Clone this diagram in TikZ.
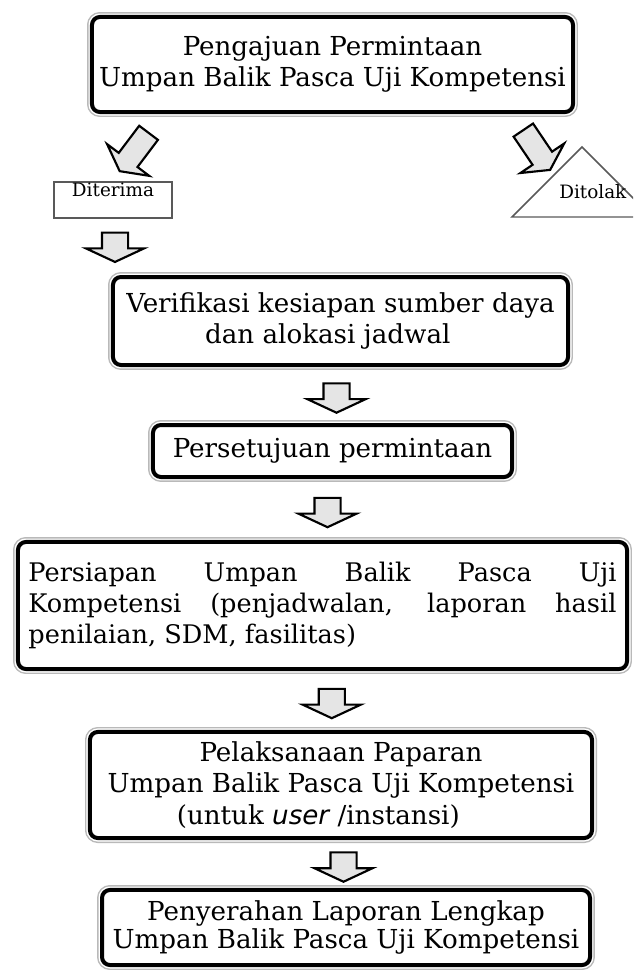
\documentclass[tikz,border=0pt]{standalone}
\usepackage{fontspec}
\setmainfont{DejaVu Serif}
\newfontfamily\userfont{DejaVu Sans}
\usetikzlibrary{calc,positioning,shapes.arrows}
\tikzstyle{tahap} = [rectangle,
    rounded corners=6pt,
    draw=black, line width=3pt,
    fill=white,
    align=center,
    inner sep=3pt,
    font=\fontsize{19.6}{23.5}\selectfont,
    preaction={draw=gray!55, line width=7.4pt},
    preaction={draw=white, line width=5.2pt}]
\tikzstyle{blockarrow} = [single arrow, draw=black, line width=1.6pt,
    fill=gray!20, inner xsep=0pt, inner ysep=9pt,
    single arrow tip angle=130,
    single arrow head extend=12pt,
    minimum width=42pt, minimum height=22pt]

\begin{document}
\begin{tikzpicture}[x=0.75pt, y=-0.75pt,
    small/.style={font=\fontsize{13.8}{15}\selectfont},
    godown/.style={blockarrow, rotate=-90},
    goslant/.style={blockarrow,
    minimum height=36pt, minimum width=39pt, inner ysep=8pt,
    single arrow head extend=11pt,
    single arrow tip angle=124}
    ]
  \useasboundingbox (0,0) rectangle (633,975);
  \clip (0,0) rectangle (633,975);
  \node [tahap, minimum width=360.8pt, minimum height=71.3pt] (ajuan) at (332.5,64.5)
    {Pengajuan Permintaan\\Umpan Balik Pasca Uji Kompetensi};
  % hasil pengajuan
  \node [small, draw=gray!70!black, line width=1.1pt, minimum width=88.5pt, minimum height=27pt,
    inner sep=0pt, text height=8pt, text depth=13pt] (terima) at (113,200) {Diterima};
  \draw [gray!70!black, line width=1.1pt] (512,217) -- (582,147) -- (652,217) -- cycle;
  \node [small, anchor=west, inner sep=0pt] (tolak) at (559,192) {Ditolak};
  \node [goslant, rotate=233] (keterima) at (136,149.5) {};
  \node [goslant, rotate=-56] (ketolak) at (535,147.4) {};
  \node [godown] (turun) at ($(terima.south)+(2,25.5)$) {};
  % alur utama
  \node [tahap, minimum width=341.3pt, minimum height=66pt] (verif) at (340.5,321)
    {Verifikasi kesiapan sumber daya\\dan alokasi jadwal\hspace*{19pt}};
  \node [tahap, minimum width=269.3pt, minimum height=39pt] (setuju) at (332.5,451)
    {Persetujuan permintaan};
  \node [tahap, minimum width=456.8pt, minimum height=95.3pt, text width=441pt, align=justify,
    font=\fontsize{19.2}{23.5}\selectfont] (siap) at (322.5,605.5)
    {Persiapan Umpan Balik Pasca Uji\linebreak Kompetensi (penjadwalan, laporan hasil\linebreak penilaian, SDM, fasilitas)};
  \node [tahap, minimum width=376.6pt, minimum height=79.6pt] (papar) at (341,785)
    {Pelaksanaan Paparan\\Umpan Balik Pasca Uji Kompetensi\\(untuk {\userfont\itshape user} /instansi)\hspace*{34pt}};
  \node [tahap, minimum width=366pt, minimum height=56.3pt, font=\fontsize{19.6}{21}\selectfont]
    (serah) at (346,927.5)
    {Penyerahan Laporan Lengkap\\Umpan Balik Pasca Uji Kompetensi};
  \node [godown] at ($(verif.south)!0.5!(setuju.north)$) {};
  \node [godown] at ($(setuju.south)!0.5!(siap.north)$) {};
  \node [godown] at ($(siap.south)!0.5!(papar.north)$) {};
  \node [godown] at ($(papar.south)!0.5!(serah.north)$) {};
\end{tikzpicture}
\end{document}
